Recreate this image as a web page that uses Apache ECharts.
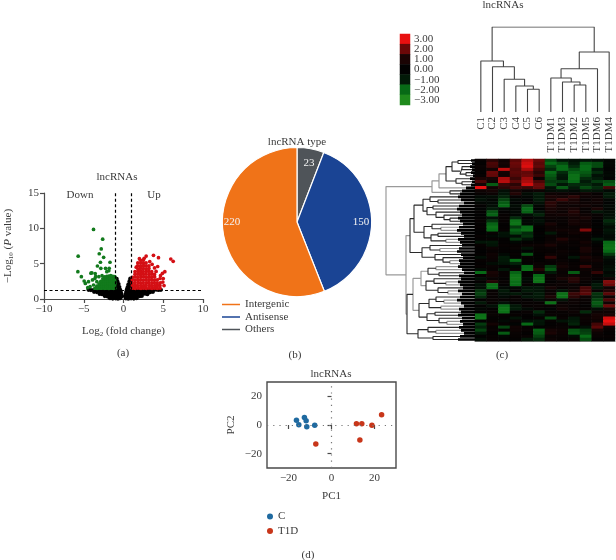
<!DOCTYPE html>
<html>
<head>
<meta charset="utf-8">
<style>html,body{margin:0;padding:0;background:#fff}#c{width:616px;height:560px}</style>
<script src="https://cdn.jsdelivr.net/npm/echarts@6/dist/echarts.min.js"></script>
</head>
<body>
<div id="c"></div>
<script>
// ---------- (a) volcano ----------
const volcanoBlack = [
[-1.7,.12],[-1.35,.06],[-1.0,.1],[-.7,.05],[-.42,.12],[.3,.1],[.6,.05],[.95,.1],[1.3,.06],[1.65,.12],
[-2.35,.42],[-2.0,.36],[-1.65,.4],[-1.3,.34],[-1,.42],[-.7,.36],[-.42,.4],[-.2,.38],[.2,.4],[.42,.36],[.7,.4],[1,.35],[1.3,.42],[1.65,.38],[2,.4],[2.3,.44],
[-3,.72],[-2.7,.68],[-2.35,.74],[-2,.7],[-1.65,.66],[-1.3,.72],[-1,.7],[-.7,.74],[-.42,.68],[-.27,.72],[.27,.7],[.42,.72],[.7,.68],[1,.74],[1.3,.7],[1.65,.66],[2,.72],[2.35,.7],[2.7,.74],[3,.68],
[-3.7,1.02],[-3.35,.98],[-3,1.04],[-2.65,1],[-2.3,.96],[-2,1.02],[-1.65,1],[-1.3,1.04],[-1,.98],[-.7,1.02],[-.5,1],[-.35,1.04],[.35,1.02],[.5,.98],[.7,1.02],[1,1],[1.3,.96],[1.65,1.04],[2,1],[2.3,.98],[2.65,1.02],[3,1],[3.35,.96],[3.7,1.02],
[-4.4,1.3],[-4.1,1.26],[-3.7,1.32],[-3.35,1.28],[-3,1.3],[-2.65,1.26],[-2.3,1.32],[-2,1.28],[-1.65,1.3],[-1.3,1.26],[-1,1.32],[-.75,1.3],[-.55,1.26],[-.42,1.3],[.42,1.32],[.55,1.28],[.75,1.3],[1,1.26],[1.3,1.32],[1.65,1.28],[2,1.3],[2.3,1.26],[2.65,1.32],[3,1.28],[3.35,1.3],[3.7,1.26],[4.1,1.32],[4.4,1.28],[4.7,1.3],
[-.95,1.7],[-.75,1.66],[-.52,1.7],[.52,1.68],[.75,1.72],[.95,1.66],
[-.97,2.1],[-.8,2.06],[-.62,2.12],[.62,2.08],[.8,2.12],[.97,2.06],
[-.95,2.5],[-.76,2.48],[.76,2.52],[.95,2.46],[-.98,2.9],[-.86,2.86],[.86,2.9],[.98,2.84]
];
const volcanoDown = [
[-3.77,9.85],[-2.62,8.47],[-2.8,7.08],[-3.05,6.4],[-5.7,6.06],[-2.5,5.9],[-1.7,5.2],[-2.9,5.2],[-3.28,4.67],[-2.85,4.34],[-2.26,4.34],[-1.8,4.34],[-1.85,4.0],[-5.74,3.87],[-5.3,3.16],[-2.1,3.87],[-3.98,3.7],[-3.56,3.6],[-4.1,3.65],[-3.1,3.16],[-4.4,2.45],[-4.8,2.2],[-3.77,1.98],[-3.35,2.45],[-2.7,3.3],[-4.2,1.75],[-3.6,2.9],[-4.95,2.55],[-3.9,2.7],[-4.5,1.6],[-3.5,3.2],
[-1.1,1.52],[-1.12,1.88],[-1.08,2.2],[-1.1,2.56],[-1.12,2.9],[-1.1,3.18],
[-1.35,1.5],[-1.37,1.84],[-1.33,2.22],[-1.35,2.54],[-1.36,2.92],[-1.34,3.22],
[-1.6,1.54],[-1.58,1.86],[-1.62,2.18],[-1.6,2.56],[-1.58,2.88],[-1.6,3.3],
[-1.85,1.5],[-1.86,1.88],[-1.84,2.2],[-1.85,2.58],[-1.87,2.9],[-1.84,3.24],
[-2.1,1.52],[-2.12,1.86],[-2.08,2.22],[-2.1,2.54],[-2.12,2.92],[-2.1,3.2],
[-2.35,1.5],[-2.33,1.84],[-2.36,2.2],[-2.35,2.56],[-2.34,2.9],[-2.37,3.14],
[-2.6,1.54],[-2.62,1.88],[-2.58,2.18],[-2.6,2.54],[-2.6,2.86],
[-2.85,1.5],[-2.86,1.86],[-2.84,2.2],[-2.85,2.5],
[-3.1,1.52],[-3.12,1.84],[-3.08,2.16],[-3.35,1.5],[-3.36,1.82],[-3.6,1.48]
];
const volcanoUp = [
[5.95,5.66],[6.25,5.33],[2.85,6.08],[3.77,6.18],[4.4,5.85],[5.2,3.87],[4.9,3.63],[4.65,3.3],[4.3,4.6],[3.9,4.4],[4.1,3.9],[5,2.9],[5.1,1.9],[4.95,2.4],[4.6,2.9],[3.6,4.9],[3.3,5.3],[1.8,5.1],[1.6,4.5],[2.0,5.7],[2.6,5.75],
[1.1,1.52],[1.12,1.88],[1.08,2.3],[1.1,2.72],[1.12,3.08],
[1.45,1.5],[1.47,1.92],[1.43,2.28],[1.45,2.68],[1.46,3.12],[1.44,3.52],[1.45,3.88],
[1.8,1.54],[1.78,1.88],[1.82,2.32],[1.8,2.7],[1.78,3.08],[1.8,3.52],[1.82,3.92],[1.8,4.28],[1.78,4.7],
[2.15,1.5],[2.16,1.9],[2.14,2.28],[2.15,2.72],[2.17,3.1],[2.14,3.48],[2.15,3.9],[2.13,4.32],[2.15,4.68],[2.17,5.1],[2.15,5.48],
[2.5,1.52],[2.52,1.88],[2.48,2.3],[2.5,2.68],[2.52,3.12],[2.5,3.5],[2.48,3.88],[2.5,4.3],[2.52,4.72],[2.5,5.08],[2.48,5.5],
[2.85,1.5],[2.84,1.92],[2.87,2.28],[2.85,2.7],[2.86,3.08],[2.84,3.52],[2.85,3.9],[2.87,4.28],[2.85,4.7],[2.84,5.12],
[3.2,1.54],[3.22,1.88],[3.18,2.32],[3.2,2.7],[3.2,3.1],[3.22,3.48],[3.18,3.92],[3.2,4.3],[3.2,4.68],
[3.55,1.5],[3.53,1.9],[3.56,2.28],[3.55,2.72],[3.54,3.08],[3.56,3.52],[3.55,3.86],
[3.9,1.52],[3.92,1.88],[3.88,2.3],[3.9,2.68],[3.92,3.12],[3.9,3.48],
[4.25,1.5],[4.26,1.92],[4.24,2.28],[4.25,2.72],
[4.6,1.52],[4.58,1.9],[4.62,2.3]
];
const foldCut = 1, pCut = 1.3;

// ---------- (b) pie ----------
const pieNames = ['Others','Antisense','Intergenic'];
const pieValues = [23,150,220];
const pieColors = ['#4f5459','#1a4494','#f07318'];

// ---------- (c) heat map ----------
const heatSamples = ['C1','C2','C3','C4','C5','C6','T1DM1','T1DM3','T1DM2','T1DM5','T1DM6','T1DM4'];
const heatValues = [
[.2,1.2,.6,1.8,2.6,2,-1.6,-.8,-.6,-.8,-.5,-.2],
[.1,1.6,.8,2,2.8,1.8,-2,-1.6,-1,-1.8,-1.6,-.3],
[.3,1.5,.6,1.9,2.9,1.9,-1.5,-2,-1.2,-2,-1.6,-.2],
[.2,.7,2.7,1.7,2.5,1.5,-1.2,-2,-1.6,-2,-.8,-.1],
[.1,2,.7,1.8,1.9,1.2,-2,-1.2,-1.9,-1.8,-1.2,-.2],
[.2,1.9,.6,1.7,2,1.4,-1.8,-1,-2.2,-1.6,-.6,-.3],
[1,.9,2.5,1.4,2.4,.4,-1.6,-.8,-2.2,-1.2,-1,-.1],
[1.6,.4,2.6,1.8,2.5,1.6,-1.4,-1.4,-2,-1,-1.4,-1.6],
[.8,-1.8,1.4,1.2,2.8,2,-1.6,-.8,-1.2,-1.2,-.9,-1.8],
[3,.6,1.2,1.5,1.4,1.9,-.7,-1.8,-1,-1.6,-1.2,1.5],
[.5,.8,-.5,.8,.3,.5,-.4,-.6,-.3,-.9,-.7,-.3],
[.2,.4,-.8,1.1,-.4,-1,.5,.4,.3,.6,.2,-1],
[-.3,-.4,-1.1,.2,-.2,-.9,1,.8,1.2,.5,.4,-1],
[-.6,-.2,-1.5,-.3,-.1,-1,.8,1.4,1,.3,.6,-.2],
[-.2,-.3,-1.8,-.1,.1,-.6,1.2,.7,.8,.4,.5,-.1],
[.1,-.5,-2,-.4,-1.6,-.2,1.1,.5,.4,.6,.3,-.3],
[-.1,-1,-.3,-.2,-2,0,.9,.6,.9,.2,1,-.2],
[.1,-1.7,.1,-.3,-1.9,-.6,.7,.4,1.1,.3,-.8,-.4],
[0,-1.9,.2,-.2,-.5,-1.1,.5,.7,.9,.5,.3,-.5],
[.1,-.6,.2,-1.2,.1,-.3,.4,.3,.6,.9,.2,-.7],
[.2,-1.3,.2,-2.2,-.3,-.6,.2,.3,.8,.5,0,-1.2],
[.1,-1.9,.1,-2.3,-.2,-.3,.9,.2,.7,.6,.1,-1],
[.2,-2.2,.1,-1.4,-2.1,.1,.4,.3,.3,.6,-.1,-.4],
[.1,-2,.2,-1.9,-2.2,0,.5,.6,.5,2.2,.2,-.8],
[0,.3,-.7,-1.6,-1.2,.1,-.9,.3,.6,.4,.1,-.6],
[.2,-.3,-.6,-.4,-1.3,-.1,.3,.2,.2,.3,-.1,-.3],
[.1,.2,.1,-1.3,-.7,0,.3,1.1,.4,.3,-1,-.4],
[-.8,-.9,.1,-.2,.1,.1,.4,.5,.2,.7,-.2,-2],
[.2,-.7,.2,.2,.4,.4,1,.3,.3,.4,.1,-2.2],
[.1,.4,.1,.3,-.7,.2,.3,.2,.1,1,.2,-2.3],
[0,.2,.1,.1,-.1,.2,.2,.4,.2,.9,.3,-2],
[.1,.5,-.3,.2,-1.7,.1,.4,.3,.1,.4,.1,-1.4],
[-.5,.4,-1,.1,.2,.1,1.3,.2,-.8,1,.4,-.8],
[.2,.3,-.9,-2,.2,.1,.3,.3,.1,.6,.6,-.3],
[.1,-.4,-.7,-1.1,.1,.3,.2,.5,.2,.3,.3,-.2],
[.2,.3,.1,-.2,-2,.4,-1.4,.8,.3,1.4,.3,-.4],
[-.4,.2,-.8,.3,-2.1,1.1,-1.7,.4,.2,.5,.4,-.6],
[-2,.9,.2,-1.9,.1,.3,-.9,.3,-1.8,.3,1.3,-.2],
[.2,.7,.2,-2.3,.1,-2,.3,.4,.6,.3,.2,-.5],
[-.5,.3,.1,-2.4,-.3,-2.3,.2,.9,1.2,.4,.1,.5],
[.1,1.1,.2,-2.1,-.2,-2.3,.1,.3,1.1,.2,-.3,2.2],
[-.6,-2.1,.1,-2.1,.2,-.3,.3,.4,.3,.1,-1,2],
[-.5,-2,-.3,-.2,-.7,-.8,.8,.2,.4,1.5,-.8,.6],
[-1.3,.2,-.9,.1,-.9,-.7,.3,-.7,.7,1.6,.2,1.1],
[-1.5,.3,-.6,-.9,-.4,-1,.5,-2.2,1.4,1.8,-1.3,1.8],
[-1.2,.2,-.3,.2,-.8,-.9,1,-2.2,1.2,.5,-1.2,.4],
[.1,.3,.2,.3,.1,-.4,.4,-.7,.4,.3,-1.5,1.6],
[-.9,.2,-.6,.1,.2,.2,-2.2,.3,.4,.2,-1.8,.6],
[.1,-.6,-2,-.9,.2,.3,.2,.5,.2,.1,-1.6,2],
[-.2,.1,-2.3,-1,-.3,.2,-.1,.7,.3,.2,-.4,1],
[.1,.2,-2.2,.1,.3,-1.2,.2,.2,.4,-1.2,.4,.5],
[-2.2,.3,.2,.2,.1,-.6,.3,.2,.2,.3,.8,.9],
[-2.3,.1,.1,-.7,.1,.2,-1.6,.3,-.8,.4,.7,2.8],
[.1,.2,-.3,.3,-.6,-.8,.2,-.7,-1,.3,.5,3],
[-1.4,.7,.2,-.1,-2,-.7,.1,.2,-1.1,.2,1.5,2.7],
[-1.1,.2,-1.5,.6,.2,.1,.2,.3,.1,-.5,1.8,.5],
[-1.5,.3,.1,.5,.3,-1.9,.8,.5,-1.7,-1.4,.9,.2],
[-.9,.1,-1.8,.3,.1,-1.8,1,.4,-1.8,-1.5,.4,.1],
[.1,.2,-.2,.2,.3,-1.5,.3,.3,-.4,-2,.3,.2],
[-.4,.2,.1,.1,-.9,-1.2,.4,.2,.3,-1.6,.1,.1]
];
const heatLegendValues = [3,2,1,0,-1,-2,-3];
const heatLegendLabels = ['3.00','2.00','1.00','0.00','\u22121.00','\u22122.00','\u22123.00'];
const heatStops = ['#1f8a1c','#076a16','#021a08','#020202','#1a0404','#6a0808','#e81010'];

// sample tree: [merge height, left, right]; numbers are leaf positions among the samples
const sampleTree = [85,
  [51, 0, [45.3, 1, [32.7, 2, [26, 3, [22.7, 4, 5]]]]],
  [60, [43.3, [34, 6, [30, 7, [27, 8, 9]]], 10], 11]
];
// row tree: [depth, left, right, grey?]; numbers are heat-map rows
const rowTree = [0,
  [46, [53, [60, [66, [72,0,1],[74,[76,2,3],[80,4,5]]], [70,6,[76,7,8]]], 9, 1], [64,10,11], 1],
  [20,
    [24,
      [28,
        [37,[44,12,[52,13,14]],[41,[47,15,16],[50,17,[58,18,[64,19,20]]]]],
        [38,[46,21,[55,22,23,1]],[45,[52,24,25],[60,26,27,1]]]],
      [36,[44,28,[54,29,30,1]],[49,31,[57,32,[64,33,34,1]]]]],
    [21,
      [27,
        [35,[42,[50,35,36,1],[53,37,38]],[40,[48,39,[60,40,41,1]],[52,42,[62,43,44,1]]],1],
        [33,[43,[50,45,[58,46,47,1]],[55,48,49,1]],[41,[49,50,51],[53,52,[61,53,54,1]]]],1],
      [32,[42,55,[50,56,57,1]],[47,58,59]]],
    1],
  1];
const rowMassStart = [85,86,84,86,85,87,84,86,85,80,76,74,72,75,78,73,71,74,76,72,74,77,73,71,75,78,72,74,76,73,71,75,77,73,74,72,76,78,73,75,72,74,77,72,76,74,71,75,78,73,75,72,76,74,77,73,75,78,74,72];

// ---------- (d) PCA ----------
const pcaC = [[-16.3,3.3],[-15.2,.2],[-12.6,5.3],[-11.8,3],[-11.5,-1.2],[-7.8,-.2]];
const pcaT1D = [[-7.3,-13.3],[11.6,.9],[14.1,.9],[18.8,-.2],[13.2,-10.5],[23.3,7.2]];

// ---------- helpers ----------
const FONT = '"Liberation Serif", serif';
const INK = '#3a3a3a';
const AX = '#4a4a4a';
const minusFmt = v => String(v).replace('-', '\u2212');
const txt = (text, left, top, size) => ({
  text, left, top, textAlign: 'center', textVerticalAlign: 'middle', padding: 0,
  textStyle: {fontFamily: FONT, fontSize: size || 11, fontWeight: 'normal', color: INK}
});

// dendrogram walkers produce polyline points through the axes
const BREAK = ['-', '-'];
function walkSample(node, out) {
  if (typeof node === 'number') return {pos: node + .5, h: 0};
  const a = walkSample(node[1], out), b = walkSample(node[2], out);
  out.push([a.pos, a.h], [a.pos, node[0]], [b.pos, node[0]], [b.pos, b.h], BREAK);
  return {pos: (a.pos + b.pos) / 2, h: node[0]};
}
function walkRow(node, dark, grey) {
  if (typeof node === 'number') return {pos: node + .5, d: rowMassStart[node]};
  const a = walkRow(node[1], dark, grey), b = walkRow(node[2], dark, grey);
  const out = node[3] ? grey : dark;
  out.push([a.d, a.pos], [node[0], a.pos], [node[0], b.pos], [b.d, b.pos], BREAK);
  return {pos: (a.pos + b.pos) / 2, d: node[0]};
}
const sampleLines = []; walkSample(sampleTree, sampleLines);
const rowDark = [], rowGrey = []; walkRow(rowTree, rowDark, rowGrey);
const rowMass = [];
rowMassStart.forEach((d, r) => rowMass.push([d, r + .5], [89, r + .5], BREAK));

const heatData = [];
heatValues.forEach((row, r) => row.forEach((v, c) => heatData.push([c, r, v])));

const axisBase = {
  axisLine: {onZero: false, lineStyle: {color: AX, width: 1.2}},
  axisTick: {length: 4, lineStyle: {color: AX, width: 1.2}},
  axisLabel: {fontFamily: FONT, fontSize: 11, color: INK, margin: 5, formatter: minusFmt},
  splitLine: {show: false},
  nameTextStyle: {fontFamily: FONT, fontSize: 11, color: INK}
};
const hiddenValue = (gridIndex, min, max, inverse) => ({type: 'value', gridIndex, min, max, inverse: !!inverse, show: false, splitLine: {show: false}});

const scatter = (name, data, color, size) => ({
  type: 'scatter', name, xAxisIndex: 0, yAxisIndex: 0, data, symbolSize: size, silent: true,
  itemStyle: {color, opacity: 1}
});
const linesSeries = (data, x, y, color, width) => ({
  type: 'line', data, xAxisIndex: x, yAxisIndex: y, symbol: 'none', connectNulls: false, silent: true,
  lineStyle: {color, width}
});

const option = {
  animation: false,
  backgroundColor: '#fff',
  title: [
    txt('lncRNAs', 117, 177), txt('Down', 80, 195), txt('Up', 154, 195), txt('(a)', 123, 353),
    txt('lncRNA type', 297, 142), txt('(b)', 295, 355),
    txt('lncRNAs', 503, 5), txt('(c)', 502, 355),
    txt('lncRNAs', 331, 374), txt('(d)', 308, 555)
  ],
  grid: [
    {left: 44, top: 193, width: 159, height: 106},
    {left: 267, top: 382, width: 129, height: 86, show: true, borderColor: AX, borderWidth: 1.4},
    {left: 475, top: 27, width: 140, height: 85},
    {left: 386, top: 159, width: 89, height: 182},
    {left: 475, top: 159, width: 140, height: 182},
    {left: 400, top: 34, width: 10, height: 71}
  ],
  xAxis: [
    Object.assign({}, axisBase, {type: 'value', gridIndex: 0, min: -10, max: 10, interval: 5, name: 'Log{s|2} (fold change)', nameLocation: 'middle', nameGap: 26,
      nameTextStyle: {fontFamily: FONT, fontSize: 11, color: INK, rich: {s: {fontFamily: FONT, fontSize: 7, color: INK, verticalAlign: 'bottom', padding: [6,0,0,0]}}}}),
    Object.assign({}, axisBase, {type: 'value', gridIndex: 1, min: -30, max: 30, name: 'PC1', nameLocation: 'middle', nameGap: 23,
      axisLine: {show: false},
      axisTick: {length: 4, lineStyle: {color: AX, width: 1.2}, customValues: [-20,0,20]},
      axisLabel: Object.assign({}, axisBase.axisLabel, {customValues: [-20,0,20]})}),
    hiddenValue(2, 0, 12),
    {type: 'category', gridIndex: 2, data: heatSamples, position: 'bottom', axisLine: {show: false}, axisTick: {show: false},
      axisLabel: {interval: 0, rotate: 90, margin: 5, fontFamily: FONT, fontSize: 11, color: INK}},
    hiddenValue(3, 0, 89),
    {type: 'category', gridIndex: 4, data: heatSamples, position: 'bottom', axisLine: {lineStyle: {color: '#8a8a8a', width: 1}}, axisTick: {show: false}, axisLabel: {show: false}},
    {type: 'category', gridIndex: 4, data: heatSamples, position: 'top', axisLine: {lineStyle: {color: '#6a6a6a', width: 1}}, axisTick: {show: false}, axisLabel: {show: false}},
    {type: 'category', gridIndex: 5, data: ['k'], show: false}
  ],
  yAxis: [
    Object.assign({}, axisBase, {type: 'value', gridIndex: 0, min: 0, max: 15, interval: 5, name: '\u2212Log{s|10} ({i|P} value)', nameLocation: 'middle', nameGap: 29,
      nameTextStyle: {fontFamily: FONT, fontSize: 11, color: INK, rich: {s: {fontFamily: FONT, fontSize: 7, color: INK, verticalAlign: 'bottom', padding: [6,0,0,0]}, i: {fontFamily: FONT, fontSize: 11, fontStyle: 'italic', color: INK}}}}),
    Object.assign({}, axisBase, {type: 'value', gridIndex: 1, min: -30, max: 30, name: 'PC2', nameLocation: 'middle', nameGap: 30,
      axisLine: {show: false},
      axisTick: {length: 4, lineStyle: {color: AX, width: 1.2}, customValues: [-20,0,20]},
      axisLabel: Object.assign({}, axisBase.axisLabel, {customValues: [-20,0,20]})}),
    hiddenValue(2, 0, 85),
    hiddenValue(3, 0, 60, true),
    {type: 'category', gridIndex: 4, data: heatValues.map((_, i) => i), inverse: true, show: false},
    {type: 'category', gridIndex: 5, data: heatLegendLabels, inverse: true, position: 'right',
      axisLine: {show: false}, axisTick: {show: false},
      axisLabel: {interval: 0, margin: 4, fontFamily: FONT, fontSize: 11, color: INK}}
  ],
  legend: [
    {orient: 'vertical', left: 222, top: 299, itemWidth: 18, itemHeight: 1.5, itemGap: 1.5, icon: 'rect', data: ['Intergenic','Antisense','Others'], selectedMode: false, itemStyle: {borderWidth: 0}, textStyle: {fontFamily: FONT, fontSize: 11, color: INK}, padding: 0},
    {orient: 'vertical', left: 267, top: 511, itemWidth: 6, itemHeight: 6, itemGap: 3.5, icon: 'circle', data: ['C','T1D'], selectedMode: false, textStyle: {fontFamily: FONT, fontSize: 11, color: INK}, padding: 0}
  ],
  visualMap: [{type: 'continuous', show: false, min: -3, max: 3, dimension: 2, seriesIndex: [9, 10], inRange: {color: heatStops}}],
  series: [
    // 0-2 volcano
    scatter('Not significant', volcanoBlack, '#000', 4.2),
    scatter('Down', volcanoDown, '#127a1c', 3.7),
    Object.assign(scatter('Up', volcanoUp, '#d40f14', 3.7), {
      markLine: {silent: true, symbol: 'none', label: {show: false}, lineStyle: {color: '#000', type: [3,2.5], width: 1.2},
        data: [{yAxis: pCut}, [{coord: [-foldCut, pCut]}, {coord: [-foldCut, 15]}], [{coord: [foldCut, pCut]}, {coord: [foldCut, 15]}]]}
    }),
    // 3 pie
    {type: 'pie', center: [297, 222], radius: 74.5, startAngle: 90, clockwise: true, silent: true, avoidLabelOverlap: false,
      data: pieNames.map((name, i) => ({name, value: pieValues[i], itemStyle: {color: pieColors[i]}})),
      itemStyle: {borderColor: '#fff', borderWidth: 1.2},
      label: {show: true, position: 'inside', formatter: '{c}', fontFamily: FONT, fontSize: 11, color: '#f3f3f3'},
      labelLine: {show: false},
      labelLayout: p => ({x: [309, 361, 232][p.dataIndex], y: [163, 222, 222][p.dataIndex], align: 'center', verticalAlign: 'middle'})
    },
    // 4-5 PCA
    {type: 'scatter', name: 'C', xAxisIndex: 1, yAxisIndex: 1, data: pcaC, symbolSize: 5.5, silent: true, itemStyle: {color: '#1f6aa0', opacity: 1},
      markLine: {silent: true, symbol: 'none', label: {show: false}, lineStyle: {color: '#777', type: [1.2,5], width: 1.2}, data: [{yAxis: 0}, {xAxis: 0}]}},
    {type: 'scatter', name: 'T1D', xAxisIndex: 1, yAxisIndex: 1, data: pcaT1D, symbolSize: 5.5, silent: true, itemStyle: {color: '#c8361a', opacity: 1}},
    // 6-8 dendrograms
    linesSeries(sampleLines, 2, 2, '#444', 1.1),
    linesSeries(rowMass, 4, 3, '#000', 2.7),
    linesSeries(rowGrey, 4, 3, '#9a9a9a', 1.2),
    // 9-10 heat maps
    {type: 'heatmap', xAxisIndex: 5, yAxisIndex: 4, data: heatData, silent: true, progressive: 0},
    {type: 'heatmap', xAxisIndex: 7, yAxisIndex: 5, data: heatLegendValues.map((v, i) => [0, i, v]), silent: true},
    // 11 dark dendrogram branches
    linesSeries(rowDark, 4, 3, '#2a2a2a', 1.1)
  ]
};
const chart = echarts.init(document.getElementById('c'), null, {renderer: 'canvas'});
chart.setOption(option);
</script>
</body>
</html>
